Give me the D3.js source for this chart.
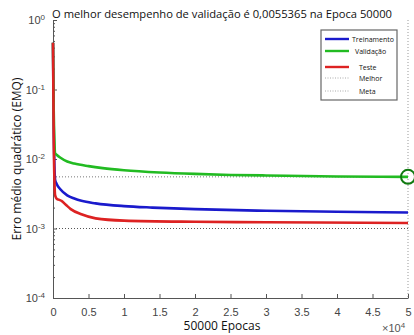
<!DOCTYPE html>
<html lang="pt">
<head>
<meta charset="UTF-8">
<title>Desempenho</title>
<script src="https://d3js.org/d3.v7.min.js"></script>
<style>
  body { margin: 0; background: #fff; }
  svg { display: block; font-family: "Liberation Sans", Arial, sans-serif; }
  .tick text { fill: #444; font-size: 11px; }
  .tick line { stroke: #555; }
  .domain { stroke: #555; }
</style>
</head>
<body>
<svg id="chart" width="414" height="335"></svg>
<script>
"use strict";

// epocas e erros (EMQ)
var trainEpochs = [0, 100, 200, 300, 500, 1000, 2000, 3000, 4000, 6000, 10000, 14000, 20000, 30000, 40000, 50000];
var trainValues = [0.47, 0.03, 0.008, 0.005, 0.0044, 0.0037, 0.003, 0.0027, 0.0025, 0.0023, 0.0021, 0.002, 0.0019, 0.0018, 0.00174, 0.0017];

var valEpochs = [0, 100, 200, 300, 500, 1000, 2000, 3000, 5000, 7000, 10000, 15000, 20000, 25000, 30000, 40000, 50000];
var valValues = [0.47, 0.05, 0.018, 0.012, 0.0115, 0.0105, 0.0092, 0.0086, 0.0079, 0.0074, 0.0069, 0.0064, 0.0061, 0.0059, 0.0058, 0.0056, 0.0055365];

var testEpochs = [0, 100, 200, 300, 500, 800, 1200, 1800, 2500, 4000, 6000, 10000, 20000, 30000, 50000];
var testValues = [0.47, 0.02, 0.005, 0.003, 0.0027, 0.0026, 0.0025, 0.0022, 0.0019, 0.0016, 0.0014, 0.0013, 0.00125, 0.00123, 0.0012];

var bestEpoch = 50000;
var bestPerf = 0.0055365;
var goal = 0.001;

var xTicks = [0, 5000, 10000, 15000, 20000, 25000, 30000, 35000, 40000, 45000, 50000];
var yTicks = [1e-4, 1e-3, 1e-2, 1e-1, 1];
var yExp = ["-4", "-3", "-2", "-1", "0"];

var legendNames = ["Treinamento", "Validação", "Teste", "Melhor", "Meta"];

var svg = d3.select("#chart");
var pLeft = 53, pRight = 408, pTop = 20, pBottom = 298;

var x = d3.scaleLinear().domain([0, 50000]).range([pLeft, pRight]);
var y = d3.scaleLog().domain([1e-4, 1]).range([pBottom, pTop]);

// linhas de referencia
svg.append("line")
    .attr("x1", x(bestEpoch)).attr("x2", x(bestEpoch))
    .attr("y1", pTop).attr("y2", pBottom)
    .attr("stroke", "#999").attr("stroke-dasharray", "1,2");
svg.append("line")
    .attr("x1", pLeft).attr("x2", pRight)
    .attr("y1", y(bestPerf)).attr("y2", y(bestPerf))
    .attr("stroke", "#777").attr("stroke-dasharray", "1,2");
svg.append("line")
    .attr("x1", pLeft).attr("x2", pRight)
    .attr("y1", y(goal)).attr("y2", y(goal))
    .attr("stroke", "#555").attr("stroke-dasharray", "1,2");

// eixos
var xAxis = d3.axisBottom(x).tickValues(xTicks).tickSizeInner(-4).tickSizeOuter(0).tickPadding(10)
    .tickFormat(function (d) { return d / 10000; });
svg.append("g").attr("transform", "translate(0," + pBottom + ")").call(xAxis);

var yMinor = [];
for (var e = -4; e < 0; e++) {
    for (var k = 2; k < 10; k++) yMinor.push(k * Math.pow(10, e));
}
svg.append("g").attr("transform", "translate(" + pLeft + ",0)")
    .call(d3.axisLeft(y).tickValues(yMinor).tickSize(-2).tickFormat(""))
    .select(".domain").remove();
var yAxis = svg.append("g").attr("transform", "translate(" + pLeft + ",0)")
    .call(d3.axisLeft(y).tickValues(yTicks).tickSizeInner(-4).tickSizeOuter(0).tickPadding(8).tickFormat(""));
yAxis.selectAll(".tick text").each(function (d, i) {
    var t = d3.select(this).attr("dy", "0.35em");
    t.append("tspan").text("10");
    t.append("tspan").attr("dy", "-0.5em").attr("font-size", "8px").text(yExp[i]);
});

// curvas
var line = d3.line().curve(d3.curveMonotoneX)
    .x(function (d) { return x(d[0]); })
    .y(function (d) { return y(d[1]); });

var series = [
    { ep: trainEpochs, v: trainValues, color: "#1a1acc" },
    { ep: valEpochs, v: valValues, color: "#22bb22" },
    { ep: testEpochs, v: testValues, color: "#dd2222" }
];
series.forEach(function (s) {
    svg.append("path")
        .datum(d3.zip(s.ep, s.v))
        .attr("fill", "none")
        .attr("stroke", s.color)
        .attr("stroke-width", 2.6)
        .attr("d", line);
});

svg.append("circle")
    .attr("cx", x(bestEpoch)).attr("cy", y(bestPerf)).attr("r", 7)
    .attr("fill", "none").attr("stroke", "#107a10").attr("stroke-width", 2);

// textos
svg.append("text").attr("x", 222).attr("y", 18).attr("text-anchor", "middle")
    .attr("font-family", "'Open Sans', sans-serif").attr("font-size", "11.2px").attr("fill", "#111")
    .text("O melhor desempenho de validação é 0,0055365 na Epoca 50000");
svg.append("text").attr("transform", "translate(21,159) rotate(-90)").attr("text-anchor", "middle")
    .attr("font-family", "'Open Sans', sans-serif").attr("font-size", "12px").attr("fill", "#111")
    .text("Erro médio quadrático (EMQ)");
svg.append("text").attr("x", 222).attr("y", 330).attr("text-anchor", "middle")
    .attr("font-family", "'Open Sans', sans-serif").attr("font-size", "12px").attr("fill", "#111")
    .text("50000 Epocas");
var mult = svg.append("text").attr("x", 382).attr("y", 332).attr("font-size", "11px").attr("fill", "#555");
mult.append("tspan").text("\u00d710");
mult.append("tspan").attr("dy", "-0.5em").attr("font-size", "8px").text("4");

// legenda
var lg = svg.append("g").attr("transform", "translate(321,30)");
lg.append("rect").attr("width", 76).attr("height", 70)
    .attr("fill", "#fff").attr("stroke", "#666").attr("stroke-width", 1.2);
var lgY = [9, 21, 37, 48, 61];
var lgX = [31, 34, 38, 38, 38];
var lgStyle = [
    { c: "#1a1acc", w: 2.4, dash: null },
    { c: "#22bb22", w: 2.4, dash: null },
    { c: "#dd2222", w: 2.4, dash: null },
    { c: "#aaa", w: 1, dash: "1,1.5" },
    { c: "#aaa", w: 1, dash: "1,1.5" }
];
legendNames.forEach(function (name, i) {
    lg.append("line").attr("x1", 4).attr("x2", 28).attr("y1", lgY[i]).attr("y2", lgY[i])
        .attr("stroke", lgStyle[i].c).attr("stroke-width", lgStyle[i].w)
        .attr("stroke-dasharray", lgStyle[i].dash);
    lg.append("text").attr("x", lgX[i]).attr("y", lgY[i] + 2.5)
        .attr("font-family", "'Open Sans', sans-serif").attr("font-size", "7px").attr("fill", "#111")
        .text(name);
});
</script>
</body>
</html>
